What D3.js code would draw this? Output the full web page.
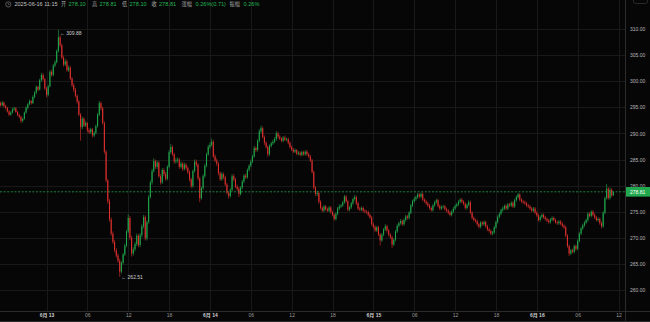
<!DOCTYPE html>
<html><head><meta charset="utf-8">
<script src="https://cdn.jsdelivr.net/npm/d3@7"></script>
<style>html,body{margin:0;padding:0;background:#060606;overflow:hidden}svg{display:block}</style>
</head><body><svg id="c" width="650" height="322"></svg>
<script>
// ---- DATA (15-minute candles, 2025-06-12 17:15 .. 2025-06-16 11:15) ----
const startTime = Date.UTC(2025, 5, 12, 17, 15);
const intervalMin = 15;

const opens = [
295.8,295.4,295.9,295.2, 294.9,294.2,293.6,294.0, 294.6,294.8,294.1,293.5, 293.2,292.4,292.8,294.0,
294.9,295.6,296.2,295.8, 297.0,297.8,298.9,298.4, 300.2,301.2,300.4,298.6, 297.4,299.0,301.8,301.2,
303.0,303.6,305.8,308.4, 306.9,304.5,303.2,303.8, 302.1,302.6,300.5,299.2, 298.4,297.2,296.1,293.6,
291.2,292.8,291.5,292.0, 290.6,290.2,290.8,289.6, 290.1,291.4,293.6,295.8, 294.8,292.0,286.5,281.0,
277.0,273.5,270.8,269.2, 267.6,266.6,265.6,263.5, 265.2,266.8,268.5,271.2, 273.8,270.0,267.0,267.8,
268.8,270.4,268.6,270.5, 272.2,274.0,269.9,273.0, 277.8,280.6,282.8,284.7, 283.6,284.4,281.8,280.6,
283.0,282.2,281.3,283.6, 286.4,287.4,286.0,284.6, 284.8,285.0,283.6,284.2, 283.2,284.0,283.4,282.6,
281.2,279.9,282.8,284.6, 284.0,281.4,277.6,279.5, 281.8,283.8,286.0,287.4, 287.8,288.4,285.6,284.8,
284.2,282.4,281.2,282.2, 281.6,280.2,278.6,278.0, 279.2,281.8,281.2,279.8, 279.4,278.4,279.6,280.8,
281.9,281.6,283.0,283.8, 284.6,285.6,287.2,286.8, 288.6,290.4,291.0,289.3, 288.2,287.4,286.0,287.6,
288.1,288.4,288.9,290.0, 289.4,289.0,288.6,289.2, 288.8,288.9,288.2,287.4, 286.9,286.5,286.8,286.1,
286.3,285.9,286.4,286.0, 286.5,286.0,285.6,284.8, 282.6,279.6,278.4,278.6, 276.9,275.7,275.2,276.0,
275.5,275.2,275.8,274.9, 274.4,273.6,274.6,275.6, 276.0,276.2,276.8,277.9, 277.0,275.4,275.8,276.6,
277.4,277.8,276.6,275.6, 275.4,275.7,275.2,275.0, 274.9,274.4,273.9,272.6, 272.1,271.4,272.0,270.6,
269.5,270.6,271.6,272.2, 271.4,270.6,270.1,268.7, 269.6,271.2,272.3,272.8, 273.2,272.6,273.4,274.1,
273.8,274.8,276.2,277.0, 277.4,277.8,278.3,277.9, 278.4,277.3,277.0,276.6, 276.2,275.7,275.3,276.2,
276.8,277.2,276.1,275.6, 275.9,276.0,275.5,275.2, 274.8,274.4,275.0,275.6, 276.1,276.4,276.9,277.3,
276.9,276.5,275.7,276.3, 276.8,274.8,273.8,273.4, 273.2,272.6,272.1,272.9, 272.6,273.0,272.2,271.6,
271.3,270.8,271.0,272.0, 273.0,274.0,274.6,275.3, 275.6,276.1,275.6,276.4, 276.2,276.7,276.0,277.2,
277.8,278.3,277.3,277.0, 276.8,276.6,276.2,276.0, 275.6,275.2,275.6,274.8, 274.3,273.4,274.0,274.4,
273.9,273.6,273.3,273.0, 273.5,273.8,273.4,273.0, 272.8,273.1,272.7,272.3, 272.0,270.4,268.4,267.0,
267.6,267.3,268.4,267.9, 269.4,270.8,271.8,272.4, 272.9,273.4,274.6,274.2, 275.0,274.4,273.9,273.4,
273.6,272.8,272.2,274.8, 277.6,279.4,277.6,279.2, 278.10
];
const closes = [
295.4,295.9,295.2,294.9, 294.2,293.6,294.0,294.6, 294.8,294.1,293.5,293.2, 292.4,292.8,294.0,294.9,
295.6,296.2,295.8,297.0, 297.8,298.9,298.4,300.2, 301.2,300.4,298.6,297.4, 299.0,301.8,301.2,303.0,
303.6,305.8,308.4,306.9, 304.5,303.2,303.8,302.1, 302.6,300.5,299.2,298.4, 297.2,296.1,293.6,291.2,
292.8,291.5,292.0,290.6, 290.2,290.8,289.6,290.1, 291.4,293.6,295.8,294.8, 292.0,286.5,281.0,277.0,
273.5,270.8,269.2,267.6, 266.6,265.6,263.5,265.2, 266.8,268.5,271.2,273.8, 270.0,267.0,267.8,268.8,
270.4,268.6,270.5,272.2, 274.0,269.9,273.0,277.8, 280.6,282.8,284.7,283.6, 284.4,281.8,280.6,283.0,
282.2,281.3,283.6,286.4, 287.4,286.0,284.6,284.8, 285.0,283.6,284.2,283.2, 284.0,283.4,282.6,281.2,
279.9,282.8,284.6,284.0, 281.4,277.6,279.5,281.8, 283.8,286.0,287.4,287.8, 288.4,285.6,284.8,284.2,
282.4,281.2,282.2,281.6, 280.2,278.6,278.0,279.2, 281.8,281.2,279.8,279.4, 278.4,279.6,280.8,281.9,
281.6,283.0,283.8,284.6, 285.6,287.2,286.8,288.6, 290.4,291.0,289.3,288.2, 287.4,286.0,287.6,288.1,
288.4,288.9,290.0,289.4, 289.0,288.6,289.2,288.8, 288.9,288.2,287.4,286.9, 286.5,286.8,286.1,286.3,
285.9,286.4,286.0,286.5, 286.0,285.6,284.8,282.6, 279.6,278.4,278.6,276.9, 275.7,275.2,276.0,275.5,
275.2,275.8,274.9,274.4, 273.6,274.6,275.6,276.0, 276.2,276.8,277.9,277.0, 275.4,275.8,276.6,277.4,
277.8,276.6,275.6,275.4, 275.7,275.2,275.0,274.9, 274.4,273.9,272.6,272.1, 271.4,272.0,270.6,269.5,
270.6,271.6,272.2,271.4, 270.6,270.1,268.7,269.6, 271.2,272.3,272.8,273.2, 272.6,273.4,274.1,273.8,
274.8,276.2,277.0,277.4, 277.8,278.3,277.9,278.4, 277.3,277.0,276.6,276.2, 275.7,275.3,276.2,276.8,
277.2,276.1,275.6,275.9, 276.0,275.5,275.2,274.8, 274.4,275.0,275.6,276.1, 276.4,276.9,277.3,276.9,
276.5,275.7,276.3,276.8, 274.8,273.8,273.4,273.2, 272.6,272.1,272.9,272.6, 273.0,272.2,271.6,271.3,
270.8,271.0,272.0,273.0, 274.0,274.6,275.3,275.6, 276.1,275.6,276.4,276.2, 276.7,276.0,277.2,277.8,
278.3,277.3,277.0,276.8, 276.6,276.2,276.0,275.6, 275.2,275.6,274.8,274.3, 273.4,274.0,274.4,273.9,
273.6,273.3,273.0,273.5, 273.8,273.4,273.0,272.8, 273.1,272.7,272.3,272.0, 270.4,268.4,267.0,267.6,
267.3,268.4,267.9,269.4, 270.8,271.8,272.4,272.9, 273.4,274.6,274.2,275.0, 274.4,273.9,273.4,273.6,
272.8,272.2,274.8,277.6, 279.4,277.6,279.2,278.10, 278.81
];
const highs = [
296.1,296.2,296.1,295.5, 295.1,294.5,294.3,294.9, 295.1,295.0,294.3,293.8, 293.4,293.0,294.2,295.2,
295.8,296.5,296.4,297.3, 298.1,299.2,299.1,300.5, 301.6,301.5,300.6,298.9, 299.3,302.1,302.2,303.3,
304.0,306.1,309.88,308.8, 307.2,304.9,304.3,304.1, 303.0,302.9,300.8,299.6, 298.7,297.5,296.4,293.9,
293.2,293.1,292.4,292.2, 291.0,291.1,291.0,290.4, 291.7,293.9,296.2,296.1, 295.1,292.3,286.8,281.3,
277.4,273.9,271.2,269.6, 268.0,267.0,266.0,265.5, 267.1,268.9,271.5,274.5, 274.2,270.4,268.2,269.2,
270.8,270.7,270.9,272.6, 274.4,274.3,273.3,278.2, 281.0,283.2,285.2,285.0, 284.8,284.7,282.2,283.4,
283.3,282.6,283.9,286.8, 288.0,287.7,286.3,285.3, 285.4,285.3,284.6,284.5, 284.4,284.3,283.7,282.9,
281.5,283.1,285.0,285.0, 284.3,281.7,279.8,282.2, 284.2,286.3,287.8,288.3, 289.0,288.7,286.0,285.2,
284.5,282.7,282.6,282.5, 281.9,280.5,278.9,279.5, 282.2,282.2,281.5,280.2, 279.7,279.9,281.1,282.2,
282.3,283.3,284.1,285.0, 285.9,287.6,287.5,288.9, 290.8,291.5,291.3,289.6, 288.5,287.7,287.9,288.4,
288.8,289.3,290.4,290.3, 289.7,289.3,289.5,289.6, 289.2,289.2,288.5,287.7, 287.2,287.1,287.0,286.6,
286.6,286.7,286.7,286.8, 286.8,286.3,285.9,285.1, 282.9,279.9,279.0,278.9, 277.2,276.0,276.3,276.3,
275.8,276.1,276.1,275.2, 274.7,274.9,275.9,276.4, 276.5,277.1,278.2,278.2, 277.3,276.1,276.9,277.7,
278.2,278.1,276.9,275.9, 276.0,276.0,275.5,275.3, 275.2,274.7,274.2,272.9, 272.4,272.3,272.3,270.9,
270.9,271.9,272.6,272.5, 271.7,270.9,270.4,269.9, 271.5,272.6,273.1,273.6, 273.5,273.7,274.4,274.4,
275.1,276.5,277.3,277.8, 278.1,278.6,278.6,278.7, 278.7,277.6,277.3,276.9, 276.5,276.0,276.5,277.1,
277.5,277.5,276.4,276.2, 276.3,276.3,275.8,275.5, 275.1,275.3,275.9,276.4, 276.7,277.2,277.6,277.6,
277.2,276.8,276.6,277.2, 277.1,275.1,274.1,273.7, 273.5,272.9,273.2,273.2, 273.3,273.3,272.5,271.9,
271.6,271.3,272.3,273.3, 274.3,274.9,275.6,276.0, 276.4,276.4,276.7,276.7, 277.0,277.0,277.5,278.1,
278.6,278.5,277.6,277.3, 277.1,276.9,276.5,276.3, 275.9,275.9,275.9,275.1, 274.6,274.3,274.7,274.7,
274.2,273.9,273.6,273.8, 274.1,274.1,273.7,273.3, 273.4,273.4,273.0,272.6, 272.3,270.7,268.7,267.9,
267.9,268.7,268.7,269.7, 271.1,272.1,272.7,273.2, 273.7,274.9,274.9,275.3, 275.3,274.7,274.2,273.9,
273.9,273.1,275.1,277.9, 280.3,279.7,279.6,279.5, 278.81
];
const lows = [
295.1,295.2,295.0,294.6, 294.0,293.3,293.4,293.8, 294.3,293.9,293.3,292.9, 292.0,292.1,292.6,293.7,
294.6,295.4,295.5,295.6, 296.7,297.5,298.1,298.2, 299.9,300.1,298.3,296.9, 297.1,298.8,300.9,300.9,
302.7,303.4,305.5,306.5, 304.2,302.8,302.9,301.8, 301.8,300.2,298.9,297.9, 296.9,295.7,293.3,288.6,
290.8,291.2,291.2,290.2, 289.9,289.9,289.2,289.3, 289.8,291.1,293.3,294.4, 291.7,286.1,280.6,276.5,
273.1,270.4,268.8,267.2, 266.2,265.2,262.51,263.2, 264.9,266.5,268.2,270.9, 269.6,266.4,266.6,267.4,
268.4,268.2,268.2,270.1, 271.8,269.5,269.5,272.7, 277.5,280.2,282.5,283.2, 283.2,281.5,280.2,280.3,
281.8,280.9,281.0,283.3, 286.1,285.7,284.2,284.2, 284.4,283.2,283.3,282.8, 282.9,283.0,282.2,280.8,
279.5,279.6,282.5,283.6, 281.0,276.8,277.3,279.2, 281.5,283.5,285.7,287.0, 287.5,285.3,284.5,283.8,
282.0,280.9,280.9,281.2, 279.9,278.3,277.5,277.7, 278.9,280.8,279.5,279.0, 277.8,278.1,279.3,280.5,
281.3,281.3,282.7,283.5, 284.3,285.3,286.4,286.5, 288.3,290.0,289.0,287.8, 287.1,285.5,285.7,287.3,
287.8,288.1,288.6,289.0, 288.7,288.3,288.3,288.5, 288.5,287.9,287.1,286.6, 286.2,286.2,285.8,285.8,
285.6,285.6,285.7,285.7, 285.7,285.3,284.5,282.3, 279.3,278.0,278.0,276.5, 275.4,274.9,274.9,275.2,
274.9,274.9,274.6,274.1, 273.3,273.3,274.3,275.3, 275.7,275.9,276.5,276.7, 275.1,275.1,275.5,276.3,
277.1,276.3,275.3,275.1, 275.1,274.9,274.7,274.6, 274.1,273.6,272.3,271.8, 271.1,271.1,270.3,268.5,
269.2,270.3,271.3,271.0, 270.3,269.8,268.0,268.4, 269.3,270.9,272.0,272.5, 272.3,272.3,273.1,273.5,
273.5,274.5,275.9,276.7, 277.1,277.5,277.6,277.6, 277.0,276.7,276.3,275.9, 275.4,275.0,275.0,275.9,
276.5,275.8,275.3,275.3, 275.6,275.2,274.9,274.5, 274.1,274.1,274.7,275.3, 275.8,276.1,276.6,276.6,
276.2,275.4,275.4,276.0, 274.5,273.5,273.1,272.9, 272.3,271.8,271.8,272.3, 272.3,271.9,271.3,271.0,
270.5,270.5,270.7,271.7, 272.7,273.7,274.3,275.0, 275.3,275.3,275.3,275.9, 275.9,275.7,275.7,276.9,
277.5,277.0,276.7,276.5, 276.3,275.9,275.7,275.3, 274.9,274.9,274.5,274.0, 273.1,273.1,273.7,273.6,
273.3,273.0,272.7,272.7, 273.2,273.1,272.7,272.5, 272.5,272.4,272.0,271.7, 270.1,268.1,266.5,266.7,
267.0,267.0,267.5,267.6, 269.1,270.5,271.5,272.1, 272.6,273.1,273.9,273.9, 274.1,273.6,273.1,273.1,
272.5,271.8,271.9,274.5, 277.3,277.3,277.3,277.8, 278.10
];

const priceTicks = [310, 305, 300, 295, 290, 285, 280, 275, 270, 265, 260];
const headerLabels = ["开", "高", "低", "收", "涨幅", "振幅"];
const headerValues = ["278.10", "278.81", "278.10", "278.81", "0.26%(0.71)", "0.26%"];
const headerTime = "2025-06-16 11:15";
const lastPrice = 278.81;
const maxMark = 309.88, minMark = 262.51;

// ---- CHART ----
const W = 650, H = 322, plotR = 625.5, plotB = 311;
const UP = "#21a84d", DOWN = "#df302e";
const FONT = "'Liberation Sans','Noto Sans CJK SC',Arial,sans-serif";
const svg = d3.select("#c");

const candles = closes.map((c, i) => ({
  t: new Date(startTime + i * intervalMin * 60000),
  o: opens[i], h: highs[i], l: lows[i], c: c
}));

const x = d3.scaleUtc()
  .domain([new Date(Date.UTC(2025, 5, 13, 0)), new Date(Date.UTC(2025, 5, 16, 12))])
  .range([46.5, 618.5]);
const y = d3.scaleLinear().domain([260, 310]).range([290, 29]);

svg.append("rect").attr("width", W).attr("height", H).attr("fill", "#060606");

const timeTicks = d3.utcHour.every(6).range(new Date(Date.UTC(2025, 5, 13, 0)), new Date(Date.UTC(2025, 5, 16, 12, 1)));

// grid
const grid = svg.append("g").attr("stroke", "#191919").attr("stroke-width", 1).attr("shape-rendering", "crispEdges");
grid.selectAll("line.h").data(priceTicks).join("line")
  .attr("x1", 0).attr("x2", plotR).attr("y1", d => Math.round(y(d)) + 0.5).attr("y2", d => Math.round(y(d)) + 0.5);
grid.selectAll("line.v").data(timeTicks).join("line")
  .attr("y1", 0).attr("y2", plotB).attr("x1", d => Math.round(x(d)) + 0.5).attr("x2", d => Math.round(x(d)) + 0.5);

// frame lines
const frame = svg.append("g").attr("stroke", "#2c2c2c").attr("shape-rendering", "crispEdges");
frame.append("line").attr("x1", plotR).attr("x2", plotR).attr("y1", 0).attr("y2", H);
frame.append("line").attr("x1", 0).attr("x2", W).attr("y1", plotB + 0.5).attr("y2", plotB + 0.5);
frame.append("line").attr("x1", 0).attr("x2", W).attr("y1", H - 0.5).attr("y2", H - 0.5);

// candles
const step = x(new Date(startTime + intervalMin * 60000)) - x(new Date(startTime));
const bw = step * 0.62;
const cg = svg.append("g");
cg.selectAll("line").data(candles).join("line")
  .attr("x1", d => x(d.t)).attr("x2", d => x(d.t))
  .attr("y1", d => y(Math.max(d.h, d.o, d.c))).attr("y2", d => y(Math.min(d.l, d.o, d.c)))
  .attr("stroke", d => d.c >= d.o ? UP : DOWN).attr("stroke-width", 0.6);
cg.selectAll("rect").data(candles).join("rect")
  .attr("x", d => x(d.t) - bw / 2).attr("width", bw)
  .attr("y", d => y(Math.max(d.o, d.c)))
  .attr("height", d => Math.max(0.7, Math.abs(y(d.o) - y(d.c))))
  .attr("fill", d => d.c >= d.o ? UP : DOWN);

// last price dashed line
svg.append("line").attr("x1", 0).attr("x2", plotR).attr("y1", y(lastPrice)).attr("y2", y(lastPrice))
  .attr("stroke", "#25a24e").attr("stroke-width", 0.8).attr("stroke-dasharray", "2,1.6");

// right axis
const yAxis = d3.axisRight(y).tickValues(priceTicks).tickFormat(d3.format(".2f")).tickSize(0).tickPadding(0);
const ya = svg.append("g").attr("transform", `translate(${plotR + 4.5},0)`).call(yAxis);
ya.select(".domain").remove();
ya.selectAll("text").attr("fill", "#b8b8b8").attr("font-size", 5).attr("font-family", FONT).attr("text-anchor", "start");

// last price tag
svg.append("rect").attr("x", plotR + 0.5).attr("y", y(lastPrice) - 4.8).attr("width", W - plotR).attr("height", 9.6).attr("fill", "#22a84f");
svg.append("text").attr("x", plotR + 4.5).attr("y", y(lastPrice)).attr("dy", "0.35em")
  .attr("fill", "#ffffff").attr("font-size", 5).attr("font-family", FONT).text(d3.format(".2f")(lastPrice));

// bottom axis
const xAxis = d3.axisBottom(x).tickValues(timeTicks).tickSize(0).tickPadding(0)
  .tickFormat(d => d.getUTCHours() === 0 ? `${d.getUTCMonth() + 1}月 ${d.getUTCDate()}` : d3.utcFormat("%H")(d));
const xa = svg.append("g").attr("transform", `translate(0,${plotB + 2.3})`).call(xAxis);
xa.select(".domain").remove();
xa.selectAll("text").attr("font-family", FONT).attr("font-size", 5)
  .attr("fill", d => d.getUTCHours() === 0 ? "#d0d0d0" : "#9a9a9a")
  .attr("font-weight", d => d.getUTCHours() === 0 ? "bold" : "normal");

// high / low markers
const hiC = candles.find(d => d.h === maxMark), loC = candles.find(d => d.l === minMark);
svg.append("text").attr("x", x(hiC.t) + 1.5).attr("y", y(maxMark) + 3.6).attr("dy", "0.35em")
  .attr("fill", "#cfcfcf").attr("font-size", 5).attr("font-family", FONT).text("← " + maxMark.toFixed(2));
svg.append("text").attr("x", x(loC.t) + 1.5).attr("y", y(minMark)).attr("dy", "0.35em")
  .attr("fill", "#cfcfcf").attr("font-size", 5).attr("font-family", FONT).text("← " + minMark.toFixed(2));

// header
const hd = svg.append("g").attr("font-family", FONT);
hd.append("circle").attr("cx", 8.3).attr("cy", 4.4).attr("r", 2.6).attr("fill", "none").attr("stroke", "#8a8a8a").attr("stroke-width", 0.6);
hd.append("path").attr("d", "M8.3,2.9 V4.5 H9.5").attr("fill", "none").attr("stroke", "#8a8a8a").attr("stroke-width", 0.5);
hd.append("text").attr("x", 14.5).attr("y", 6.3).attr("font-size", 5.5).attr("fill", "#c4c4c4").text(headerTime);
const labX = [61, 92, 122, 151.5, 181.5, 229.5];
const valX = [68.5, 99.5, 129.5, 159, 195.5, 243.5];
headerLabels.forEach((lab, i) => {
  hd.append("text").attr("x", labX[i]).attr("y", 6.3).attr("font-size", 5.2).attr("fill", "#a8a8a8").text(lab);
  hd.append("text").attr("x", valX[i]).attr("y", 6.3).attr("font-size", 5.6).attr("fill", "#23b553").text(headerValues[i]);
});

// top-right small button
svg.append("rect").attr("x", 633.5).attr("y", -4).attr("width", 14).attr("height", 7.5).attr("rx", 2)
  .attr("fill", "none").attr("stroke", "#3a3a3a").attr("stroke-width", 0.7);
</script></body></html>
